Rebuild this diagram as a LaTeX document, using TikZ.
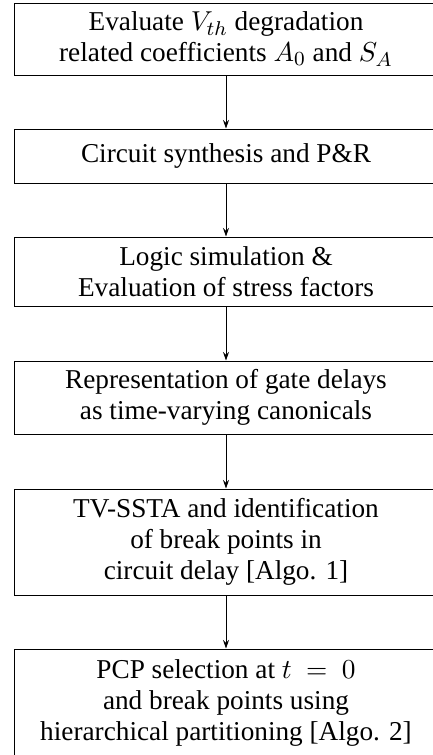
\documentclass[tikz,border=0pt]{standalone}
\usepackage[no-math]{fontspec}
\setmainfont{Liberation Serif}
\usetikzlibrary{arrows.meta}
\begin{document}
\begin{tikzpicture}[x=0.4pt,y=-0.4pt,
  stepbox/.style={draw, line width=0.4pt, rectangle, minimum width=168.8pt,
    align=center, inner sep=0pt, font=\fontsize{10.9}{12.4}\selectfont},
  flow/.style={-{Stealth[length=3.4pt,width=2.4pt]}, line width=0.4pt}]
\useasboundingbox (0,0) rectangle (433,755);
\clip (0,0) rectangle (433,755);

% process steps, top to bottom
\node[stepbox, minimum height=28.8pt] (s1) at (226,39)
  {Evaluate $V_{th}$ degradation\\ related coefficients $A_0$ and $S_A$};
\node[stepbox, minimum height=21.6pt] (s2) at (226,156)
  {Circuit synthesis and P\&R};
\node[stepbox, minimum height=27.6pt] (s3) at (226,271.5)
  {Logic simulation \&\\ Evaluation of stress factors};
\node[stepbox, minimum height=29.2pt] (s4) at (226,397.5)
  {Representation of gate delays\\ as time-varying canonicals};
\node[stepbox, minimum height=42.4pt] (s5) at (226,542)
  {TV-SSTA and identification\\ of break points in\\ circuit delay [Algo. 1]};
\node[stepbox, minimum height=43.2pt] (s6) at (226,703)
  {PCP selection at $t~=~0$\\ and break points using\\ hierarchical partitioning [Algo. 2]};

% connectors
\draw[flow] (s1) -- (s2);
\draw[flow] (s2) -- (s3);
\draw[flow] (s3) -- (s4);
\draw[flow] (s4) -- (s5);
\draw[flow] (s5) -- (s6);
\end{tikzpicture}
\end{document}
